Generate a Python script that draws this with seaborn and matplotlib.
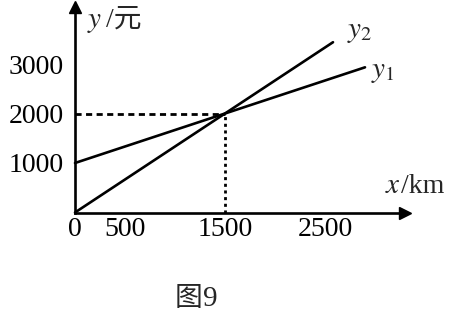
import matplotlib
matplotlib.use("Agg")
import matplotlib.pyplot as plt
import seaborn as sns
import numpy as np
import pandas as pd

# data
x_y1 = [0, 1500, 2900]
y1_vals = [1000, 2000, 2933]
x_y2 = [0, 1500, 2580]
y2_vals = [0, 2000, 3440]
cross_x = 1500
cross_y = 2000
x_ticks = [0, 500, 1000, 1500, 2000, 2500]
x_tick_labels = ["0", "500", "", "1500", "", "2500"]
y_ticks = [1000, 2000, 3000]
y_tick_labels = ["1000", "2000", "3000"]

sns.set_style("white")
plt.rcParams["font.family"] = ["Liberation Serif", "Noto Sans CJK SC", "DejaVu Sans"]
plt.rcParams["mathtext.fontset"] = "stix"

W, H = 454, 315
fig = plt.figure(figsize=(W / 100, H / 100), dpi=100)
# axes: origin at pixel (75, 212.5); ~0.1 px/unit x, 0.0495 px/unit y
x0, y0 = 75, 212.5
xmax, ymax = 3300, 4150
sx, sy = 0.1, 0.0495
ax = fig.add_axes([x0 / W, (H - y0) / H, xmax * sx / W, ymax * sy / H])
ax.set_xlim(0, xmax)
ax.set_ylim(0, ymax)

LW = 1.9
df1 = pd.DataFrame({"x": x_y1, "y": y1_vals})
df2 = pd.DataFrame({"x": x_y2, "y": y2_vals})
sns.lineplot(data=df1, x="x", y="y", ax=ax, color="black", lw=LW, clip_on=False)
sns.lineplot(data=df2, x="x", y="y", ax=ax, color="black", lw=LW, clip_on=False)

ax.plot([0, cross_x], [cross_y, cross_y], color="black", lw=2.0, ls=(0, (2.2, 1.6)))
ax.plot([cross_x, cross_x], [0, cross_y], color="black", lw=2.0, ls=(0, (1.1, 1.3)))

for s in ["top", "right"]:
    ax.spines[s].set_visible(False)
for s in ["left", "bottom"]:
    ax.spines[s].set_color("black")
    ax.spines[s].set_linewidth(LW)
ax.plot(1, 0, marker=">", color="black", ms=9, transform=ax.get_yaxis_transform(), clip_on=False)
ax.plot(0, 1, marker="^", color="black", ms=9, transform=ax.get_xaxis_transform(), clip_on=False)

ax.set_xticks(x_ticks)
ax.set_xticklabels(x_tick_labels)
ax.set_yticks(y_ticks)
ax.set_yticklabels(y_tick_labels)
ax.tick_params(axis="x", direction="in", length=5, width=1.6, color="black", pad=3, labelsize=20, labelcolor="black")
ax.tick_params(axis="y", length=0, pad=8, labelsize=20, labelcolor="black")
ax.set_xlabel("")
ax.set_ylabel("")

def fx(px):
    return px / W

def fy(py):
    return 1 - py / H

fig.text(fx(87), fy(27), "$y$", fontsize=21, ha="left", va="baseline")
fig.text(fx(106), fy(27), "/元", fontsize=20, ha="left", va="baseline",
         family=["Liberation Serif", "Noto Sans CJK SC"])
fig.text(fx(385), fy(193), "$x$", fontsize=21, ha="left", va="baseline")
fig.text(fx(401), fy(193), "/km", fontsize=20, ha="left", va="baseline")
fig.text(fx(347), fy(37), "$y_2$", fontsize=21, ha="left", va="baseline")
fig.text(fx(371), fy(77), "$y_1$", fontsize=21, ha="left", va="baseline")
fig.text(fx(175), fy(306), "图", fontsize=20, ha="left", va="baseline",
         family=["Noto Sans CJK SC"])
fig.text(fx(203), fy(306), "9", fontsize=21, ha="left", va="baseline")

fig.savefig("out.png", dpi=100)
